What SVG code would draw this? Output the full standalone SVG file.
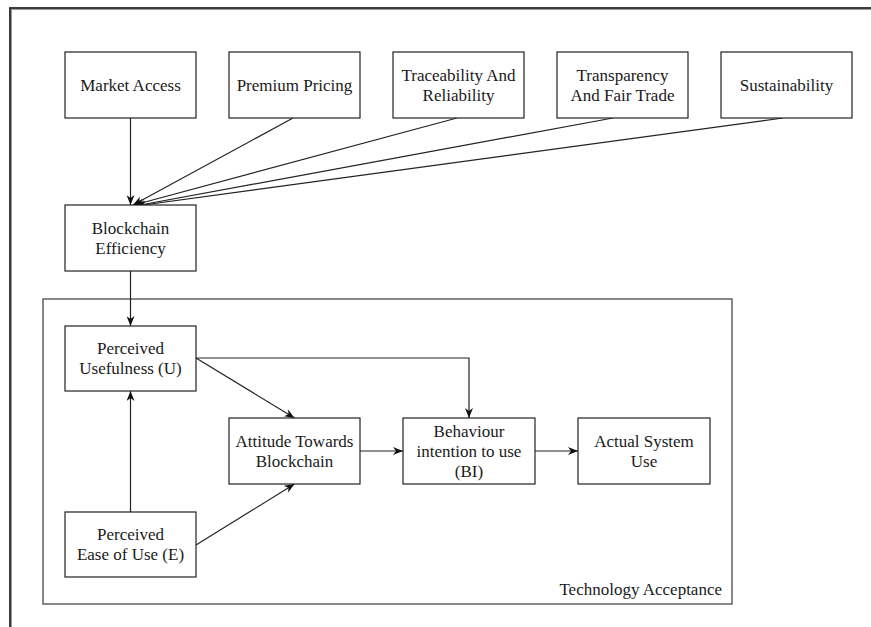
<svg xmlns="http://www.w3.org/2000/svg" width="871" height="627" viewBox="0 0 871 627">
<style>
.box{fill:#fff;stroke:#222;stroke-width:1.2}
.t{font-family:"Liberation Serif","Times New Roman",serif;font-size:17px;fill:#1a1a1a;text-anchor:middle}
.c{fill:none;stroke:#222;stroke-width:1.2;marker-end:url(#ah)}
</style>
<defs>
<marker id="ah" viewBox="0 0 10 8" refX="10" refY="4" markerWidth="10" markerHeight="8" markerUnits="userSpaceOnUse" orient="auto">
<path d="M0,0 L10,4 L0,8 L3,4 z" fill="#111"/>
</marker>
</defs>
<rect width="871" height="627" fill="#fff"/>
<path d="M10.5,627 V8.5 H871" fill="none" stroke="#9a9a9a" stroke-width="3"/>
<path d="M10,627 V8 H871" fill="none" stroke="#222" stroke-width="1.6"/>
<g id="technology-acceptance">
<rect x="43" y="299" width="689" height="305" fill="none" stroke="#555" stroke-width="1.4"/>
<text class="t" x="722" y="595" style="text-anchor:end">Technology Acceptance</text>
</g>
<g id="connectors">
<path class="c" d="M130.5,118 V205"/>
<path class="c" d="M293,118 L133,205"/>
<path class="c" d="M457,118 L134,205"/>
<path class="c" d="M613,118 L135,206"/>
<path class="c" d="M783,118 L136,206"/>
<path class="c" d="M130.5,271 V326"/>
<path class="c" d="M196,358 L294.5,418"/>
<path class="c" d="M196,358 H469 V418"/>
<path class="c" d="M130.5,512 V391"/>
<path class="c" d="M196,545 L294.5,484"/>
<path class="c" d="M360,451 H403"/>
<path class="c" d="M535,451 H578"/>
</g>
<g id="market-access"><rect class="box" x="65" y="52" width="131" height="66"/><text class="t" x="130.5" y="91">Market Access</text></g>
<g id="premium-pricing"><rect class="box" x="229" y="52" width="131" height="66"/><text class="t" x="294.5" y="91">Premium Pricing</text></g>
<g id="traceability"><rect class="box" x="393" y="52" width="131" height="66"/><text class="t" x="458.5" y="81">Traceability And</text><text class="t" x="458.5" y="101">Reliability</text></g>
<g id="transparency"><rect class="box" x="557" y="52" width="131" height="66"/><text class="t" x="622.5" y="81">Transparency</text><text class="t" x="622.5" y="101">And Fair Trade</text></g>
<g id="sustainability"><rect class="box" x="721" y="52" width="131" height="66"/><text class="t" x="786.5" y="91">Sustainability</text></g>
<g id="blockchain-efficiency"><rect class="box" x="65" y="205" width="131" height="66"/><text class="t" x="130.5" y="234">Blockchain</text><text class="t" x="130.5" y="254">Efficiency</text></g>
<g id="perceived-usefulness"><rect class="box" x="65" y="326" width="131" height="65"/><text class="t" x="130.5" y="354">Perceived</text><text class="t" x="130.5" y="374">Usefulness (U)</text></g>
<g id="perceived-ease"><rect class="box" x="65" y="512" width="131" height="65"/><text class="t" x="130.5" y="540">Perceived</text><text class="t" x="130.5" y="560">Ease of Use (E)</text></g>
<g id="attitude"><rect class="box" x="229" y="418" width="131" height="66"/><text class="t" x="294.5" y="447">Attitude Towards</text><text class="t" x="294.5" y="467">Blockchain</text></g>
<g id="behaviour-intention"><rect class="box" x="403" y="418" width="132" height="66"/><text class="t" x="469" y="437">Behaviour</text><text class="t" x="469" y="457">intention to use</text><text class="t" x="469" y="477">(BI)</text></g>
<g id="actual-system-use"><rect class="box" x="578" y="418" width="132" height="66"/><text class="t" x="644" y="447">Actual System</text><text class="t" x="644" y="467">Use</text></g>
</svg>
